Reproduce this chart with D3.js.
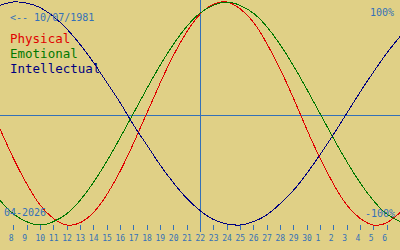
<!DOCTYPE html>
<html>
<head>
<meta charset="utf-8">
<script src="https://cdn.jsdelivr.net/npm/d3@7"></script>
<style>
  html, body { margin: 0; padding: 0; background: #E0D086; overflow: hidden; }
  svg { display: block; }
  text { font-family: "DejaVu Sans Mono", monospace; }
</style>
</head>
<body>
<script>
// ---- data ----
const days = [7,8,9,10,11,12,13,14,15,16,17,18,19,20,21,22,23,24,25,26,27,28,29,30,1,2,3,4,5,6,7];
const physical = [-0.14,-0.40,-0.63,-0.82,-0.94,-1.00,-0.98,-0.89,-0.73,-0.52,-0.27,0,0.27,0.52,0.73,0.89,0.98,1.00,0.94,0.82,0.63,0.40,0.14,-0.14,-0.40,-0.63,-0.82,-0.94,-1.00,-0.98,-0.89];
const emotional = [-0.78,-0.90,-0.97,-1.00,-0.97,-0.90,-0.78,-0.62,-0.43,-0.22,0,0.22,0.43,0.62,0.78,0.90,0.97,1.00,0.97,0.90,0.78,0.62,0.43,0.22,0,-0.22,-0.43,-0.62,-0.78,-0.90,-0.97];
const intellectual = [0.97,1.00,0.99,0.95,0.87,0.76,0.62,0.46,0.28,0.10,-0.10,-0.28,-0.46,-0.62,-0.76,-0.87,-0.95,-0.99,-1.00,-0.97,-0.91,-0.81,-0.69,-0.54,-0.37,-0.19,0,0.19,0.37,0.54,0.69];
const seriesNames = ["Physical","Emotional","Intellectual"];
const todayIndex = 15;          // 22 (today)
const birthLabel = "<-- 10/07/1981";
const monthLabel = "04-2026";
const topLabel = "100%";
const bottomLabel = "-100%";

const W = 400, H = 250;
const blue = "#3470B8";
const colors = ["#E00000", "#007800", "#000080"];

const svg = d3.select("body").append("svg").attr("width", W).attr("height", H);

const x = d3.scaleLinear().domain([0, days.length - 1]).range([0, W]);
const y = d3.scaleLinear().domain([-1, 1]).range([225, 2]);

// midline
svg.append("line")
  .attr("x1", 0).attr("x2", W)
  .attr("y1", Math.floor(y(0)) + 2.5).attr("y2", Math.floor(y(0)) + 2.5)
  .attr("stroke", blue).attr("stroke-width", 1);

// today line
svg.append("line")
  .attr("x1", x(todayIndex) + 0.5).attr("x2", x(todayIndex) + 0.5)
  .attr("y1", 0).attr("y2", 232)
  .attr("stroke", blue).attr("stroke-width", 1);

// axis
const tickIdx = d3.range(1, days.length - 1);
const axis = d3.axisBottom(x)
  .tickValues(tickIdx)
  .tickFormat(i => days[i])
  .tickSize(5)
  .tickSizeOuter(0)
  .tickPadding(6);
const gAxis = svg.append("g").attr("transform", "translate(0,225)").call(axis);
gAxis.select(".domain").remove();
gAxis.selectAll(".tick line").attr("stroke", blue).attr("shape-rendering", "crispEdges");
gAxis.selectAll(".tick text")
  .attr("fill", blue)
  .attr("font-size", "8px")
  .attr("font-family", "DejaVu Sans Mono, monospace")
  .attr("text-anchor", "start")
  .attr("x", -5)
  .attr("y", 16)
  .attr("dy", 0);

// curves
const line = d3.line()
  .x((d, i) => x(i))
  .y(d => y(d))
  .curve(d3.curveNatural);

[physical, emotional, intellectual].forEach((s, k) => {
  svg.append("path")
    .datum(s)
    .attr("d", line)
    .attr("fill", "none")
    .attr("stroke", colors[k])
    .attr("stroke-width", 1)
    .attr("shape-rendering", "crispEdges");
});

// labels
svg.append("text").attr("x", 10).attr("y", 21)
  .attr("font-size", "10px").attr("fill", blue).text(birthLabel);
svg.append("text").attr("x", 394).attr("y", 16).attr("text-anchor", "end")
  .attr("font-size", "10px").attr("fill", blue).text(topLabel);
svg.append("text").attr("x", 395).attr("y", 217).attr("text-anchor", "end")
  .attr("font-size", "10px").attr("fill", blue).text(bottomLabel);
svg.append("text").attr("x", 4).attr("y", 216)
  .attr("font-size", "10px").attr("fill", blue).text(monthLabel);

seriesNames.forEach((n, k) => {
  svg.append("text").attr("x", 10).attr("y", 43 + 15 * k)
    .attr("font-size", "12.5px").attr("fill", colors[k]).text(n);
});
</script>
</body>
</html>
